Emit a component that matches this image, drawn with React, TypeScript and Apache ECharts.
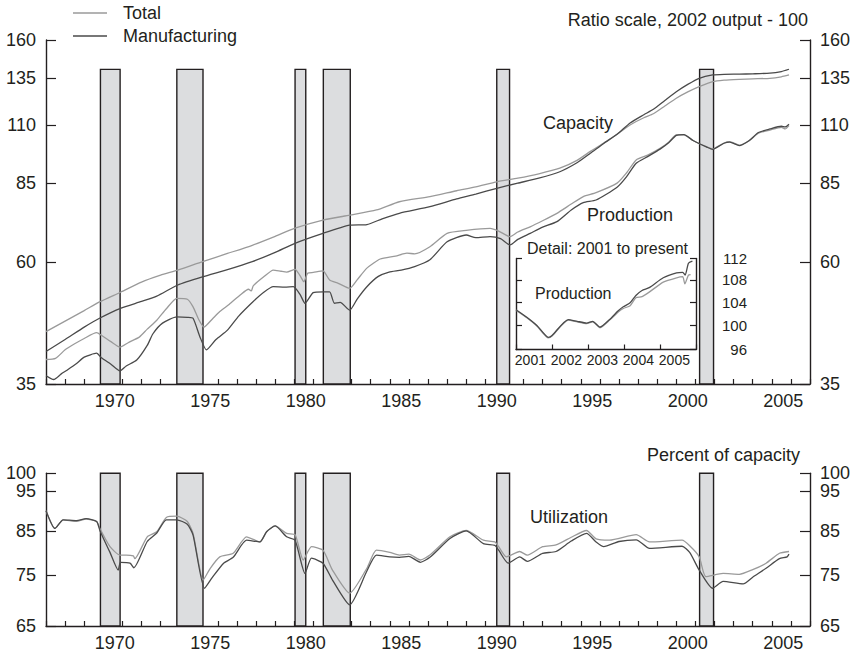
import React, { useEffect, useRef } from "react";
import * as echarts from "echarts";

// ---------- data ----------
const recessions: [number, number][] = [
  [1969.85, 1970.88],
  [1973.85, 1975.22],
  [1980.04, 1980.6],
  [1981.52, 1982.93],
  [1990.6, 1991.27],
  [2001.22, 2001.95],
];

const yearLabels = [1970, 1975, 1980, 1985, 1990, 1995, 2000, 2005];
const insetYearLabels = [2001, 2002, 2003, 2004, 2005];
const levelTicks = [35, 60, 85, 110, 135, 160];
const utilTicks = [65, 75, 85, 95, 100];
const insetTicks = [96, 100, 104, 108, 112];

const capacityTotal: [number, number][] = [
  [1967.0, 44.1], [1968.0, 46.2], [1969.0, 48.4], [1969.8, 50.3], [1970.9, 52.5],
  [1972.0, 54.9], [1973.0, 56.6], [1973.9, 57.9], [1975.2, 60.1], [1976.5, 62.3],
  [1977.8, 64.6], [1979.0, 67.2], [1980.0, 69.6], [1981.5, 72.2], [1982.9, 73.8],
  [1984.3, 75.5], [1985.5, 78.3], [1987.1, 80.1], [1988.5, 82.2], [1989.5, 83.6],
  [1990.6, 85.5], [1991.7, 86.9], [1992.8, 88.6], [1993.9, 90.8], [1994.8, 94.0],
  [1995.5, 97.8], [1996.2, 101.5], [1996.9, 105.5], [1997.6, 110.0], [1998.3, 113.5],
  [1998.8, 115.5], [1999.4, 119.5], [2000.0, 123.7], [2000.6, 127.2], [2001.2, 130.2],
  [2001.9, 133.1], [2002.5, 134.0], [2003.3, 134.5], [2004.0, 134.8], [2004.9, 135.1],
  [2005.5, 136.0], [2005.9, 137.1],
];

const capacityMfg: [number, number][] = [
  [1967.0, 40.4], [1968.0, 42.6], [1969.0, 45.0], [1969.8, 46.8], [1970.9, 48.9],
  [1972.0, 50.4], [1972.8, 51.6], [1973.9, 54.2], [1975.2, 56.2], [1976.5, 58.0],
  [1977.8, 60.1], [1979.0, 62.6], [1980.0, 65.1], [1981.5, 68.1], [1982.9, 70.6],
  [1983.8, 70.8], [1984.6, 72.6], [1985.5, 74.4], [1987.1, 76.6], [1988.5, 79.3],
  [1989.5, 81.0], [1990.6, 83.1], [1991.7, 85.0], [1992.8, 86.9], [1993.9, 89.4],
  [1994.8, 93.0], [1995.5, 97.0], [1996.2, 101.3], [1996.9, 105.5], [1997.6, 111.0],
  [1998.3, 115.0], [1998.8, 117.8], [1999.4, 122.5], [2000.0, 127.3], [2000.6, 131.5],
  [2001.2, 135.1], [2001.9, 137.1], [2002.5, 137.5], [2003.3, 137.6], [2004.0, 137.8],
  [2004.9, 138.2], [2005.5, 139.2], [2005.9, 140.6],
];

const productionTotal: [number, number][] = [
  [1967.0, 39.0], [1967.5, 39.2], [1968.0, 40.7], [1968.5, 41.8], [1969.0, 42.8],
  [1969.65, 43.9], [1969.9, 43.4], [1970.4, 42.2], [1970.87, 41.2], [1971.3, 42.0],
  [1971.9, 43.1], [1972.3, 44.6], [1972.8, 46.4], [1973.3, 48.8], [1973.85, 51.1],
  [1974.4, 50.9], [1974.7, 49.2], [1975.0, 46.5], [1975.27, 45.0], [1975.7, 46.6],
  [1976.1, 48.2], [1976.6, 49.8], [1977.2, 52.0], [1977.6, 53.2], [1977.75, 52.8],
  [1977.85, 54.0], [1978.4, 56.2], [1978.9, 57.9], [1979.3, 57.6], [1979.6, 57.4],
  [1980.04, 58.1], [1980.3, 56.5], [1980.5, 55.0], [1980.7, 57.1], [1981.0, 57.3],
  [1981.5, 57.7], [1981.85, 55.4], [1982.3, 54.6], [1982.9, 53.4], [1983.3, 55.5],
  [1983.8, 58.4], [1984.5, 60.8], [1985.3, 61.6], [1985.9, 62.4], [1986.3, 62.2],
  [1987.1, 64.2], [1988.0, 68.1], [1989.0, 69.0], [1990.25, 69.6], [1990.7, 68.8],
  [1991.3, 67.1], [1991.7, 68.5], [1992.35, 70.1], [1993.0, 72.0], [1993.75, 74.4],
  [1994.5, 77.5], [1995.13, 80.1], [1995.8, 81.5], [1996.9, 85.0], [1997.4, 89.0],
  [1997.9, 94.2], [1998.5, 96.2], [1999.15, 99.1], [1999.6, 101.8], [2000.0, 105.2],
  [2000.4, 105.2], [2000.9, 102.5], [2001.6, 99.8], [2001.9, 98.9], [2002.5, 101.5],
  [2002.8, 102.1], [2003.3, 100.6], [2003.8, 102.4], [2004.3, 106.0], [2004.9, 107.5],
  [2005.5, 108.8], [2005.7, 108.0], [2005.9, 109.6],
];

const productionMfg: [number, number][] = [
  [1967.0, 36.3], [1967.4, 35.7], [1967.8, 36.6], [1968.1, 37.2], [1968.6, 38.3],
  [1969.0, 39.4], [1969.65, 40.1], [1969.9, 39.3], [1970.4, 38.2], [1970.87, 37.1],
  [1971.2, 37.9], [1971.75, 38.9], [1972.3, 41.5], [1972.6, 43.7], [1973.1, 45.8],
  [1973.85, 47.1], [1974.4, 47.0], [1974.7, 46.8], [1975.06, 43.1], [1975.4, 40.7],
  [1975.9, 42.6], [1976.5, 44.4], [1977.1, 47.3], [1977.85, 50.4], [1978.4, 52.5],
  [1978.9, 53.8], [1979.5, 53.7], [1979.95, 53.8], [1980.3, 52.0], [1980.56, 50.0],
  [1980.99, 52.4], [1981.5, 52.6], [1981.85, 52.6], [1982.1, 50.0], [1982.4, 50.2],
  [1982.9, 48.5], [1983.3, 51.0], [1983.8, 53.8], [1984.4, 56.3], [1984.96, 57.4],
  [1985.6, 57.9], [1986.3, 58.8], [1987.1, 60.6], [1988.0, 65.6], [1989.0, 67.6],
  [1989.5, 66.8], [1990.25, 67.1], [1990.8, 66.5], [1991.3, 64.7], [1991.7, 66.3],
  [1992.35, 68.1], [1993.0, 70.0], [1993.75, 71.7], [1994.5, 75.5], [1995.13, 78.0],
  [1995.8, 78.9], [1996.9, 83.5], [1997.4, 87.5], [1997.9, 92.8], [1998.5, 95.6],
  [1999.15, 98.8], [1999.6, 101.6], [2000.0, 105.0], [2000.4, 105.3], [2000.9, 102.5],
  [2001.6, 99.7], [2001.9, 98.7], [2002.5, 101.4], [2002.8, 101.9], [2003.3, 100.3],
  [2003.8, 102.5], [2004.3, 106.3], [2004.9, 108.0], [2005.5, 109.3], [2005.7, 109.0],
  [2005.9, 110.3],
];

const utilizationTotal: [number, number][] = [
  [1967.0, 90.0], [1967.47, 85.6], [1967.9, 87.7], [1968.6, 87.3], [1969.1, 87.9],
  [1969.65, 87.3], [1969.83, 85.5], [1970.35, 81.3], [1970.87, 79.4], [1971.2, 79.4],
  [1971.57, 79.2], [1971.65, 78.6], [1972.3, 83.6], [1972.8, 84.8], [1973.3, 88.3],
  [1973.85, 88.6], [1974.4, 87.3], [1974.7, 84.4], [1975.23, 74.0], [1975.6, 76.5],
  [1976.1, 79.0], [1976.8, 79.8], [1977.5, 83.6], [1978.2, 82.4], [1978.55, 84.8],
  [1979.0, 86.2], [1979.6, 84.4], [1980.04, 84.1], [1980.47, 78.3], [1980.9, 81.3],
  [1981.5, 80.5], [1982.0, 76.1], [1982.9, 71.3], [1983.8, 76.5], [1984.3, 80.5],
  [1985.0, 80.0], [1985.5, 79.4], [1986.0, 79.6], [1986.6, 78.3], [1987.1, 79.4],
  [1988.15, 83.6], [1989.0, 85.1], [1989.9, 82.8], [1990.5, 82.4], [1990.7, 81.3],
  [1991.1, 79.0], [1991.8, 80.2], [1992.2, 79.4], [1993.0, 81.3], [1993.7, 81.7],
  [1994.5, 83.5], [1995.3, 85.1], [1995.8, 83.1], [1996.5, 82.8], [1997.9, 84.1],
  [1998.6, 82.4], [2000.3, 82.8], [2000.7, 81.5], [2001.2, 79.0], [2001.55, 74.7],
  [2002.45, 75.4], [2003.3, 75.2], [2004.0, 76.2], [2004.7, 77.6], [2005.4, 79.8],
  [2005.9, 80.2],
];

const utilizationMfg: [number, number][] = [
  [1967.0, 90.0], [1967.47, 85.6], [1967.9, 87.7], [1968.6, 87.5], [1969.1, 88.0],
  [1969.65, 87.3], [1969.83, 85.0], [1970.35, 80.0], [1970.78, 76.1], [1970.9, 77.8],
  [1971.4, 77.6], [1971.6, 76.6], [1972.3, 82.5], [1972.8, 84.5], [1973.3, 87.7],
  [1973.85, 87.7], [1974.4, 86.6], [1974.7, 84.0], [1975.3, 72.3], [1975.7, 74.5],
  [1976.3, 77.6], [1976.8, 78.9], [1977.5, 82.8], [1978.2, 82.4], [1978.55, 84.8],
  [1979.0, 86.2], [1979.6, 83.6], [1980.04, 82.8], [1980.56, 75.4], [1980.9, 78.7],
  [1981.5, 77.6], [1982.0, 74.0], [1982.9, 69.0], [1983.8, 75.9], [1984.3, 79.4],
  [1985.0, 79.0], [1985.5, 78.9], [1986.0, 79.1], [1986.6, 77.8], [1987.1, 78.9],
  [1988.15, 83.2], [1989.0, 85.0], [1989.9, 82.0], [1990.5, 81.6], [1990.7, 80.5],
  [1991.2, 77.6], [1991.8, 79.0], [1992.2, 78.0], [1993.0, 79.8], [1993.7, 80.2],
  [1994.5, 82.6], [1995.3, 84.4], [1995.8, 82.4], [1996.2, 81.3], [1997.0, 82.5],
  [1997.9, 82.9], [1998.6, 80.9], [2000.3, 81.4], [2000.7, 80.0], [2001.2, 76.1],
  [2001.9, 72.3], [2002.45, 73.7], [2003.5, 73.2], [2004.0, 74.6], [2004.7, 76.5],
  [2005.4, 78.6], [2005.8, 79.0], [2005.9, 79.6],
];

const detailTotal: [number, number][] = [
  [2001.0, 102.6], [2001.3, 101.3], [2001.58, 99.9], [2001.9, 97.9], [2002.0, 98.2],
  [2002.45, 100.9], [2002.7, 100.6], [2002.96, 100.3], [2003.13, 100.6], [2003.33, 99.6],
  [2003.6, 100.9], [2003.84, 102.3], [2003.98, 102.9], [2004.17, 103.4], [2004.33, 104.8],
  [2004.5, 105.0], [2004.7, 105.8], [2005.09, 107.6], [2005.46, 108.4], [2005.63, 108.6],
  [2005.69, 107.3], [2005.79, 108.9], [2005.85, 109.0],
];

const detailMfg: [number, number][] = [
  [2001.0, 102.7], [2001.3, 101.4], [2001.58, 100.0], [2001.9, 98.0], [2002.0, 98.3],
  [2002.45, 101.0], [2002.7, 100.7], [2002.96, 100.4], [2003.13, 100.7], [2003.33, 99.7],
  [2003.6, 101.0], [2003.84, 102.5], [2003.98, 103.2], [2004.17, 103.9], [2004.33, 105.2],
  [2004.5, 106.1], [2004.7, 106.6], [2005.09, 108.4], [2005.46, 109.3], [2005.63, 109.4],
  [2005.7, 108.9], [2005.79, 111.1], [2005.9, 111.5],
];

// ---------- styling ----------
const FONT = "'Liberation Sans', Arial, Helvetica, sans-serif";
const INK = "#231f20";
const LIGHT = "#9a9a9a";
const DARK = "#4a4a4a";
const BAR_FILL = "#dcdddf";
const LABEL_SHIFT = 0.6;
const INSET_LABEL_SHIFT = 0.4;
const LEVEL_BAR_TOP = 140.5;

const axisLine = { show: true, onZero: false, lineStyle: { color: INK, width: 1.4 } };

function xAxisCfg(gridIndex: number, min: number, max: number, labels: number[], shift: number, fontSize: number, tickLen: number, margin: number) {
  return {
    type: "value",
    gridIndex,
    min,
    max,
    interval: 1,
    axisLine,
    axisTick: { show: true, inside: true, length: tickLen, lineStyle: { color: INK, width: 1.2 } },
    axisLabel: {
      customValues: labels.map((y) => y + shift),
      formatter: (v: number) => String(Math.floor(v + 1e-6)),
      fontSize,
      color: INK,
      fontFamily: FONT,
      margin,
    },
    splitLine: { show: false },
  };
}

function yAxisCfg(gridIndex: number, position: string, min: number, max: number, ticks: number[], tickLen: number, showLabel: boolean, fontSize: number, margin: number, align?: string) {
  return {
    type: "log",
    logBase: 10,
    gridIndex,
    position,
    min,
    max,
    axisLine,
    axisTick: { show: true, inside: true, length: tickLen, customValues: ticks, lineStyle: { color: INK, width: 1.2 } },
    axisLabel: {
      show: showLabel,
      customValues: ticks,
      formatter: (v: number) => String(Math.round(v)),
      fontSize,
      color: INK,
      fontFamily: FONT,
      margin,
      ...(align ? { align } : {}),
    },
    splitLine: { show: false },
    minorTick: { show: false },
    minorSplitLine: { show: false },
  };
}

function lineSeries(name: string, data: [number, number][], color: string, xAxisIndex: number, yAxisIndex: number, width = 1.3) {
  return {
    type: "line",
    name,
    data,
    xAxisIndex,
    yAxisIndex,
    symbol: "none",
    showSymbol: false,
    smooth: 0.2,
    silent: true,
    z: 3,
    lineStyle: { color, width },
    itemStyle: { color },
  };
}

function recessionSeries(xAxisIndex: number, yAxisIndex: number, bottom: number, top: number) {
  return {
    type: "line",
    name: "recessions",
    data: [],
    xAxisIndex,
    yAxisIndex,
    silent: true,
    z: 1,
    markArea: {
      silent: true,
      itemStyle: { color: BAR_FILL, borderColor: INK, borderWidth: 1.4 },
      data: recessions.map(([a, b]) => [
        { xAxis: a, yAxis: bottom },
        { xAxis: b, yAxis: top },
      ]),
    },
  };
}

function titleCfg(text: string, pos: Record<string, number>, fontSize = 18) {
  return {
    text,
    ...pos,
    padding: 0,
    textStyle: { fontSize, fontWeight: "normal", color: INK, fontFamily: FONT },
  };
}

export default function App() {
  const ref = useRef<HTMLDivElement>(null);

  useEffect(() => {
    if (!ref.current) return;
    const chart = echarts.init(ref.current, null, { renderer: "svg" });
    const option: any = {
      animation: false,
      backgroundColor: "#ffffff",
      textStyle: { fontFamily: FONT, color: INK },
      title: [
        titleCfg("Ratio scale, 2002 output - 100", { right: 50, top: 11 }),
        titleCfg("Percent of capacity", { right: 58, top: 446 }),
        titleCfg("Capacity", { left: 543, top: 114 }),
        titleCfg("Production", { left: 587, top: 206 }),
        titleCfg("Detail: 2001 to present", { left: 527, top: 240 }, 16),
        titleCfg("Production", { left: 535, top: 285 }, 16),
        titleCfg("Utilization", { left: 530, top: 508 }),
      ],
      legend: {
        data: ["Total", "Manufacturing"],
        orient: "vertical",
        left: 73,
        top: 4,
        padding: 0,
        icon: "rect",
        itemWidth: 34,
        itemHeight: 1.4,
        itemGap: 5,
        selectedMode: false,
        textStyle: { fontSize: 18, color: INK, fontFamily: FONT, padding: [0, 0, 0, 11] },
      },
      grid: [
        { left: 46, top: 40, width: 764, height: 344 },
        { left: 46, top: 473.3, width: 764, height: 152.7 },
        { left: 516, top: 258.5, width: 180, height: 91 },
      ],
      xAxis: [
        xAxisCfg(0, 1967, 2007, yearLabels, LABEL_SHIFT, 18, 5, 8),
        xAxisCfg(1, 1967, 2007, yearLabels, LABEL_SHIFT, 18, 5, 8),
        xAxisCfg(2, 2001, 2006, insetYearLabels, INSET_LABEL_SHIFT, 14, 5, 3),
      ],
      yAxis: [
        yAxisCfg(0, "left", 35, 160, levelTicks, 10, true, 18, 10),
        yAxisCfg(0, "right", 35, 160, levelTicks, 10, true, 18, 10),
        yAxisCfg(1, "left", 65, 100, utilTicks, 10, true, 18, 10),
        yAxisCfg(1, "right", 65, 100, utilTicks, 10, true, 18, 10),
        yAxisCfg(2, "left", 96, 112, insetTicks, 6, false, 15, 10),
        yAxisCfg(2, "right", 96, 112, insetTicks, 6, true, 15, 51, "right"),
      ],
      series: [
        recessionSeries(0, 0, 35, LEVEL_BAR_TOP),
        recessionSeries(1, 2, 65, 100),
        lineSeries("Total", capacityTotal, LIGHT, 0, 0),
        lineSeries("Manufacturing", capacityMfg, DARK, 0, 0),
        lineSeries("Total", productionTotal, LIGHT, 0, 0),
        lineSeries("Manufacturing", productionMfg, DARK, 0, 0),
        lineSeries("Total", utilizationTotal, LIGHT, 1, 2),
        lineSeries("Manufacturing", utilizationMfg, DARK, 1, 2),
        lineSeries("Total", detailTotal, LIGHT, 2, 4),
        lineSeries("Manufacturing", detailMfg, DARK, 2, 4),
      ],
    };
    chart.setOption(option);
    return () => chart.dispose();
  }, []);

  return (
    <div
      ref={ref}
      style={{ position: "fixed", left: 0, top: 0, width: 858, height: 653, background: "#fff" }}
    />
  );
}
